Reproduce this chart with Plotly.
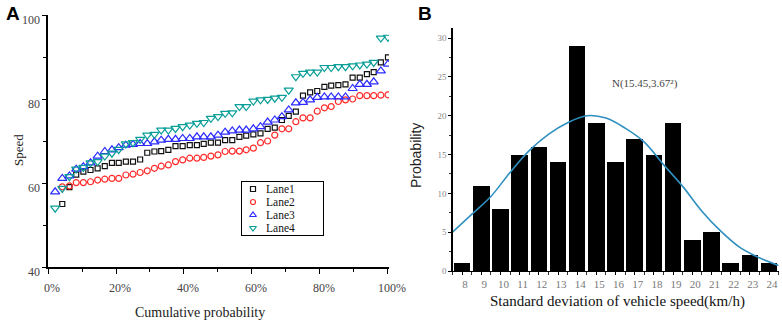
import plotly.graph_objects as go

W, H = 782, 322

# ---------------- Panel A data ----------------
cum_prob = [2.1, 4.2, 6.3, 8.3, 10.4, 12.5, 14.6, 16.7, 18.8, 20.8, 22.9, 25.0,
            27.1, 29.2, 31.3, 33.3, 35.4, 37.5, 39.6, 41.7, 43.8, 45.8, 47.9, 50.0,
            52.1, 54.2, 56.3, 58.3, 60.4, 62.5, 64.6, 66.7, 68.8, 70.8, 72.9, 75.0,
            77.1, 79.2, 81.3, 83.3, 85.4, 87.5, 89.6, 91.7, 93.8, 95.8, 97.9, 100.0]

lane1 = [55.0, 59.0, 62.0, 62.7, 63.1, 63.5, 64.0, 64.8, 64.8, 65.1, 65.1, 65.6,
         67.2, 67.5, 67.6, 67.9, 68.8, 68.8, 69.0, 69.0, 69.3, 69.6, 69.6,
         70.2, 70.2, 71.0, 71.3, 71.6, 71.8, 72.9, 73.2, 75.0, 76.0, 77.0, 80.8,
         81.6, 81.9, 82.9, 83.2, 83.3, 83.5, 85.1, 85.1, 85.9, 86.4, 88.7, 89.9]
lane2 = [59.1, 59.3, 60.1, 60.1, 60.3, 60.7, 60.9, 61.1, 61.1, 61.9, 62.1, 62.5,
         62.9, 63.5, 64.0, 64.3, 65.1, 65.5, 65.9, 65.9, 66.1, 66.4, 66.7,
         67.5, 67.6, 67.6, 67.9, 68.3, 69.6, 70.0, 71.4, 72.9, 72.9, 74.6, 75.5,
         75.5, 77.1, 77.9, 78.2, 79.4, 79.8, 80.0, 80.8, 80.8, 80.8, 80.9, 81.0]
lane3 = [57.9, 61.1, 61.7, 63.3, 63.9, 64.8, 66.4, 67.5, 67.9, 68.4, 69.0, 69.2,
         69.4, 69.4, 69.8, 70.2, 70.4, 70.4, 70.6, 70.6, 71.0, 71.0, 71.0, 71.4,
         72.1, 72.4, 72.6, 72.6, 72.9, 73.4, 74.5, 75.0, 75.8, 77.4, 79.1, 79.2,
         79.8, 80.4, 80.5, 80.5, 80.5, 80.5, 82.5, 83.5, 83.5, 84.1, 86.7, 88.3]
lane4 = [54.0, 58.7, 61.5, 63.3, 63.7, 64.8, 65.1, 66.4, 67.1, 68.0, 69.3, 69.6,
         70.4, 71.4, 71.6, 72.6, 72.6, 73.0, 73.4, 73.8, 74.2, 74.4, 75.4, 75.8,
         76.6, 76.7, 78.2, 78.2, 79.5, 79.8, 79.9, 80.2, 80.4, 82.1, 85.3, 86.1,
         86.4, 86.4, 87.5, 87.5, 87.7, 87.7, 87.9, 88.1, 88.3, 88.7, 94.5, 94.7]
lane_names = ["Lane1", "Lane2", "Lane3", "Lane4"]
speed_ticks = [40, 60, 80, 100]
prob_ticks = [0, 20, 40, 60, 80, 100]
prob_labels = ["0%", "20%", "40%", "60%", "80%", "100%"]

# ---------------- Panel B data ----------------
sd_bins = [8, 9, 10, 11, 12, 13, 14, 15, 16, 17, 18, 19, 20, 21, 22, 23, 24]
sd_counts = [1, 11, 8, 15, 16, 14, 29, 19, 14, 17, 15, 19, 4, 5, 1, 2, 1]
fit_x = [7.5, 8.5, 9.5, 10.5, 11.5, 12.5, 13.5, 14.5, 15.5, 16.5, 17.5, 18.5,
         19.5, 20.5, 21.5, 22.5, 23.5, 24.5]
fit_y = [5.0, 7.3, 9.6, 12.7, 15.5, 17.6, 19.1, 20.0, 19.7, 18.4, 16.6, 13.7,
         10.9, 7.7, 5.1, 3.0, 1.7, 0.7]
count_ticks = [0, 5, 10, 15, 20, 25, 30]
fit_label = "N(15.45,3.67²)"

SERIF = "Liberation Serif, Times New Roman, serif"
SANS = "Liberation Sans, Arial, sans-serif"


def px_x(p):
    return p / W


def px_y(p):
    return 1 - p / H


fig = go.Figure()

styles = [
    dict(symbol="square-open", color="#111111", size=5),
    dict(symbol="circle-open", color="#ff2a2a", size=6),
    dict(symbol="triangle-up-open", color="#2b2bff", size=8),
    dict(symbol="triangle-down-open", color="#0a9e98", size=8),
]
lane_x = [cum_prob[1:], cum_prob[1:], cum_prob, cum_prob]
lane_y = [lane1, lane2, lane3, lane4]
for xs, ys, st, nm in zip(lane_x, lane_y, styles, lane_names):
    fig.add_trace(go.Scatter(
        x=xs, y=ys, mode="markers", name=nm, xaxis="x", yaxis="y",
        marker=dict(symbol=st["symbol"], size=st["size"], color=st["color"],
                    line=dict(color=st["color"], width=1.2)),
        showlegend=False))

# custom legend (drawn in its own small axis box)
row_y = [7, 20, 33, 46]
for i, (st, nm) in enumerate(zip(styles, lane_names)):
    fig.add_trace(go.Scatter(
        x=[11], y=[row_y[i]], mode="markers", xaxis="x3", yaxis="y3",
        marker=dict(symbol=st["symbol"], size=max(st["size"] - 2, 5), color=st["color"],
                    line=dict(color=st["color"], width=1.2)),
        showlegend=False, hoverinfo="skip"))
    fig.add_annotation(x=22, y=row_y[i], xref="x3", yref="y3", text=nm,
                       showarrow=False, xanchor="left", yanchor="middle",
                       font=dict(family=SERIF, size=11.5, color="#111"))

# Panel B
fig.add_trace(go.Bar(x=sd_bins, y=sd_counts, width=0.86, xaxis="x2", yaxis="y2",
                     marker=dict(color="#000000", line=dict(width=0)),
                     showlegend=False))
fig.add_trace(go.Scatter(x=fit_x, y=fit_y, mode="lines", xaxis="x2", yaxis="y2",
                         line=dict(color="#2f8fbf", width=1.6, shape="spline"),
                         showlegend=False))

axis_common = dict(showgrid=False, zeroline=False, showline=True, linecolor="#000",
                   ticks="outside", tickcolor="#000", automargin=False)

fig.update_layout(
    template="none",
    width=W, height=H, margin=dict(l=0, r=0, t=0, b=0, pad=0, autoexpand=False),
    paper_bgcolor="white", plot_bgcolor="white", showlegend=False,
    bargap=0,
    xaxis=dict(domain=[px_x(48), px_x(389)], range=[0, 100.3], anchor="y",
               tickvals=prob_ticks, ticktext=prob_labels, ticklen=5, linewidth=1.6,
               ticklabelshift=4, ticklabelstandoff=4,
               minor=dict(dtick=10, tick0=0, ticklen=3, ticks="outside", tickcolor="#000"),
               tickfont=dict(family=SERIF, size=12, color="#444"), **axis_common),
    yaxis=dict(domain=[px_y(267), px_y(15)], range=[40, 100], anchor="x",
               tickvals=speed_ticks, ticklen=4, linewidth=1.6,
               ticklabelshift=5,
               minor=dict(dtick=10, tick0=40, ticklen=3, ticks="outside", tickcolor="#000"),
               tickfont=dict(family=SERIF, size=12, color="#444"), **axis_common),
    xaxis2=dict(domain=[px_x(452.5), px_x(778.6)], range=[7.5, 24.5], anchor="y2",
                tickvals=sd_bins, ticklen=3, linewidth=1.2, ticklabelshift=3,
                minor=dict(dtick=0.5, tick0=7.5, ticklen=3, ticks="outside", tickcolor="#333"),
                tickfont=dict(family=SERIF, size=11, color="#777"), **axis_common),
    yaxis2=dict(domain=[px_y(271), px_y(28)], range=[0, 31.3], anchor="x2",
                tickvals=count_ticks, ticklen=3, linewidth=1.2,
                minor=dict(dtick=2.5, tick0=0, ticklen=2, ticks="outside", tickcolor="#333"),
                tickfont=dict(family=SERIF, size=9, color="#888"), **axis_common),
    xaxis3=dict(domain=[px_x(242), px_x(323)], range=[0, 81], anchor="y3",
                showline=True, mirror=True, linecolor="#000", linewidth=1,
                showticklabels=False, ticks="", showgrid=False, zeroline=False,
                fixedrange=True, automargin=False),
    yaxis3=dict(domain=[px_y(235), px_y(182)], range=[53, 0], anchor="x3",
                showline=True, mirror=True, linecolor="#000", linewidth=1,
                showticklabels=False, ticks="", showgrid=False, zeroline=False,
                fixedrange=True, automargin=False),
)

ann = [
    dict(x=px_x(13), y=px_y(13), text="<b>A</b>", font=dict(family=SANS, size=19, color="#000")),
    dict(x=px_x(425), y=px_y(13), text="<b>B</b>", font=dict(family=SANS, size=19, color="#000")),
    dict(x=px_x(18), y=px_y(150), text="Speed", textangle=-90,
         font=dict(family=SERIF, size=13, color="#222")),
    dict(x=px_x(200), y=px_y(312), text="Cumulative probability",
         font=dict(family=SERIF, size=14, color="#222")),
    dict(x=px_x(416), y=px_y(156), text="Probability", textangle=-90,
         font=dict(family=SANS, size=14, color="#222")),
    dict(x=px_x(617), y=px_y(301), text="Standard deviation of vehicle speed(km/h)",
         font=dict(family=SERIF, size=15, color="#111")),
    dict(x=px_x(645), y=px_y(83), text=fit_label,
         font=dict(family=SERIF, size=11, color="#444")),
]
for a in ann:
    fig.add_annotation(xref="paper", yref="paper", showarrow=False,
                       xanchor="center", yanchor="middle", **a)

fig.write_html("out.html",
               config={"displayModeBar": False, "staticPlot": True},
               post_script="document.body.style.margin='0px';document.body.style.overflow='hidden';")
